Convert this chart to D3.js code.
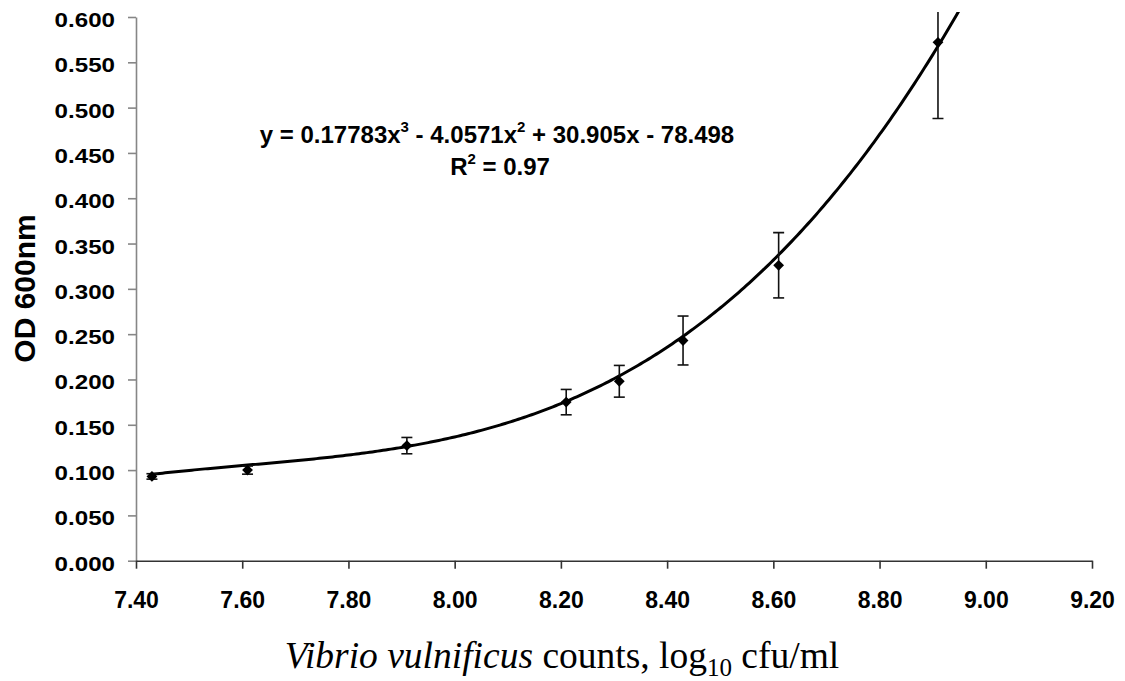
<!DOCTYPE html>
<html>
<head>
<meta charset="utf-8">
<script src="https://cdn.jsdelivr.net/npm/d3@7"></script>
<style>
  html, body { margin: 0; padding: 0; background: #fff; }
  svg { display: block; }
</style>
</head>
<body>
<svg id="chart" width="1125" height="681"></svg>
<script>
// Standard curve: OD600 against log10 Vibrio vulnificus counts
const logCounts = [7.43, 7.61, 7.91, 8.21, 8.31, 8.43, 8.61, 8.91];
const od600     = [0.093, 0.100, 0.127, 0.175, 0.198, 0.243, 0.326, 0.572];
const odError   = [0.003, 0.0045, 0.009, 0.014, 0.0175, 0.027, 0.036, 0.084];

// Cubic trendline coefficients (x^3, x^2, x, constant)
const trendCoefficients = [0.17783, -4.0571, 30.905, -78.498];
const rSquared = 0.97;

const xTickValues = [7.4, 7.6, 7.8, 8.0, 8.2, 8.4, 8.6, 8.8, 9.0, 9.2];
const yTickValues = [0, 0.05, 0.1, 0.15, 0.2, 0.25, 0.3, 0.35, 0.4, 0.45, 0.5, 0.55, 0.6];

const svg = d3.select("#chart");
const plotLeft = 136, plotRight = 1092, plotTop = 17, plotBottom = 560.7;

const x = d3.scaleLinear().domain([7.4, 9.2]).range([plotLeft, plotRight]);
const y = d3.scaleLinear().domain([0, 0.6]).range([plotBottom, plotTop]);

const sans = "'Liberation Sans', Arial, Helvetica, sans-serif";
const serif = "'Liberation Serif', 'Times New Roman', serif";

// Y axis
const yAxis = svg.append("g")
  .attr("transform", `translate(${plotLeft},0)`)
  .call(d3.axisLeft(y).tickValues(yTickValues).tickSize(8).tickSizeOuter(0)
        .tickFormat(d3.format(".3f")));
yAxis.select(".domain").attr("stroke", "#868686").attr("stroke-width", 1.6);
yAxis.selectAll(".tick line").attr("stroke", "#868686").attr("stroke-width", 1.6);
yAxis.selectAll(".tick text")
  .attr("x", null).attr("dy", null)
  .attr("transform", "translate(-21,9.5) scale(1.15,1)")
  .attr("font-family", sans).attr("font-weight", "bold")
  .attr("font-size", 21).attr("fill", "#000");

// X axis
const xAxis = svg.append("g")
  .attr("transform", `translate(0,${plotBottom})`)
  .call(d3.axisBottom(x).tickValues(xTickValues).tickSize(8).tickSizeOuter(0)
        .tickFormat(d3.format(".2f")));
xAxis.select(".domain").attr("stroke", "#333").attr("stroke-width", 1.6);
xAxis.selectAll(".tick line").attr("stroke", "#333").attr("stroke-width", 1.6);
xAxis.selectAll(".tick text")
  .attr("y", 47.5).attr("dy", null)
  .attr("font-family", sans).attr("font-weight", "bold")
  .attr("font-size", 23).attr("fill", "#000");

// Clip to plot area (slightly above the top so the tallest error bar shows)
svg.append("clipPath").attr("id", "plotClip")
  .append("rect").attr("x", plotLeft).attr("y", plotTop - 5)
  .attr("width", plotRight - plotLeft).attr("height", plotBottom - plotTop + 5);

const plot = svg.append("g").attr("clip-path", "url(#plotClip)");

// Trendline
const poly = v => trendCoefficients[0] * v * v * v + trendCoefficients[1] * v * v
                + trendCoefficients[2] * v + trendCoefficients[3];
const trendX = d3.range(logCounts[0], 9.0, 0.005);
plot.append("path")
  .datum(trendX)
  .attr("fill", "none").attr("stroke", "#000").attr("stroke-width", 3)
  .attr("stroke-linejoin", "round")
  .attr("d", d3.line().x(d => x(d)).y(d => y(poly(d))));

// Data points with error bars
const points = logCounts.map((c, i) => ({ c, v: od600[i], e: odError[i] }));
const cap = 5.5;
const eb = plot.append("g").attr("stroke", "#111").attr("stroke-width", 1.6);
points.forEach(p => {
  const px = x(p.c);
  eb.append("line").attr("x1", px).attr("x2", px)
    .attr("y1", y(p.v - p.e)).attr("y2", y(p.v + p.e));
  eb.append("line").attr("x1", px - cap).attr("x2", px + cap)
    .attr("y1", y(p.v - p.e)).attr("y2", y(p.v - p.e));
  eb.append("line").attr("x1", px - cap).attr("x2", px + cap)
    .attr("y1", y(p.v + p.e)).attr("y2", y(p.v + p.e));
});
const h = 5.4;
plot.append("g").selectAll("path").data(points).join("path")
  .attr("d", p => `M${x(p.c)},${y(p.v) - h}L${x(p.c) + h},${y(p.v)}L${x(p.c)},${y(p.v) + h}L${x(p.c) - h},${y(p.v)}Z`)
  .attr("fill", "#000");

// Trendline equation and R²
const eq = svg.append("text")
  .attr("x", 497).attr("y", 143)
  .attr("text-anchor", "middle")
  .attr("font-family", sans).attr("font-weight", "bold")
  .attr("font-size", 24).attr("fill", "#000");
const c = trendCoefficients;
const sign = v => (v < 0 ? " - " : " + ");
eq.append("tspan").text(`y = ${c[0]}x`);
eq.append("tspan").attr("dy", -11).attr("font-size", 15).text("3");
eq.append("tspan").attr("dy", 11).text(`${sign(c[1])}${Math.abs(c[1])}x`);
eq.append("tspan").attr("dy", -11).attr("font-size", 15).text("2");
eq.append("tspan").attr("dy", 11)
  .text(`${sign(c[2])}${Math.abs(c[2])}x${sign(c[3])}${Math.abs(c[3])}`);

const r2 = svg.append("text")
  .attr("x", 500).attr("y", 175)
  .attr("text-anchor", "middle")
  .attr("font-family", sans).attr("font-weight", "bold")
  .attr("font-size", 24).attr("fill", "#000");
r2.append("tspan").text("R");
r2.append("tspan").attr("dy", -11).attr("font-size", 15).text("2");
r2.append("tspan").attr("dy", 11).text(` = ${rSquared.toFixed(2)}`);

// Axis titles
svg.append("text")
  .attr("transform", "translate(35,288.5) rotate(-90)")
  .attr("text-anchor", "middle")
  .attr("font-family", sans).attr("font-weight", "bold")
  .attr("font-size", 30).attr("fill", "#000")
  .text("OD 600nm");

const xt = svg.append("text")
  .attr("x", 562).attr("y", 668)
  .attr("text-anchor", "middle")
  .attr("font-family", serif).attr("font-size", 37.5).attr("fill", "#000");
xt.append("tspan").attr("font-style", "italic").text("Vibrio vulnificus");
xt.append("tspan").text(" counts, log");
xt.append("tspan").attr("font-size", 25).attr("dy", 8).text("10");
xt.append("tspan").attr("dy", -8).text(" cfu/ml");
</script>
</body>
</html>
